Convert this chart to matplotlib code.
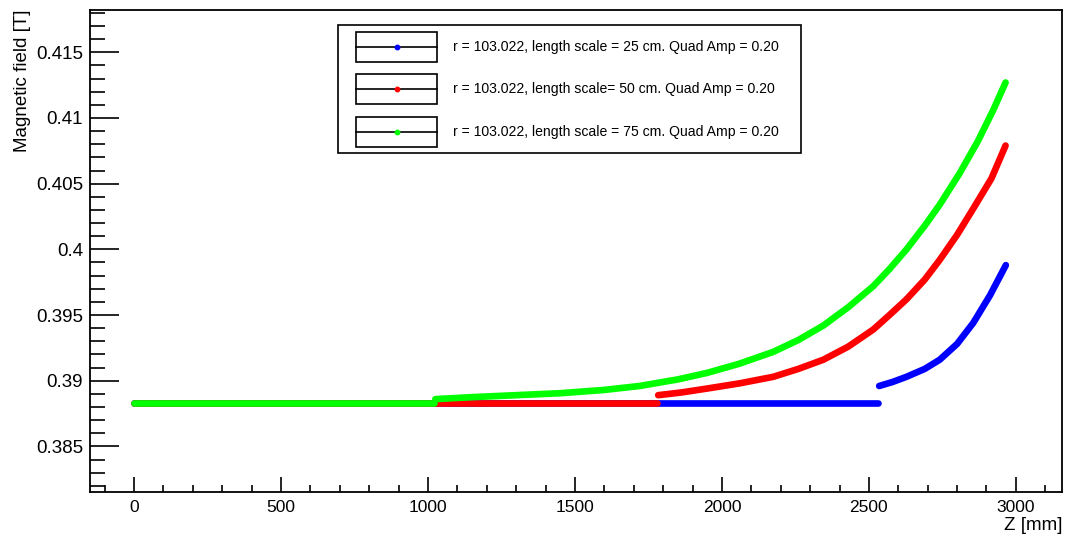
import matplotlib
matplotlib.use("Agg")
import matplotlib.pyplot as plt
from matplotlib.patches import Rectangle
from matplotlib.lines import Line2D
from matplotlib.ticker import MultipleLocator, FuncFormatter

plt.rcParams['font.family'] = ['Liberation Sans', 'DejaVu Sans']

# --- data (Z in mm, B in T) ---------------------------------------------
flat_b = 0.3883

blue_flat_z = [0, 2530]
blue_z = [2535, 2580, 2628, 2690, 2741, 2800, 2855, 2912, 2966]
blue_b = [0.3896, 0.3899, 0.3903, 0.3909, 0.3916, 0.3928, 0.3944, 0.3965, 0.3988]

red_flat_z = [0, 1780]
red_z = [1783, 1860, 1948, 2060, 2175, 2260, 2345, 2430, 2515, 2570,
         2628, 2690, 2741, 2800, 2855, 2917, 2965]
red_b = [0.3889, 0.3891, 0.3894, 0.3898, 0.3903, 0.3909, 0.3916, 0.3926,
         0.3939, 0.3950, 0.3962, 0.3977, 0.3992, 0.4011, 0.4031, 0.4054, 0.4079]

green_flat_z = [0, 1022]
green_z = [1025, 1150, 1300, 1450, 1600, 1720, 1850, 1950, 2060, 2175, 2260,
           2345, 2430, 2515, 2570, 2628, 2690, 2741, 2809, 2870, 2923, 2965]
green_b = [0.3886, 0.38875, 0.3889, 0.38905, 0.3893, 0.3896, 0.3901, 0.3906,
           0.3913, 0.3922, 0.3931, 0.3942, 0.3956, 0.3972, 0.3985, 0.4000,
           0.4018, 0.4034, 0.4058, 0.4082, 0.4106, 0.4127]

labels = ["r = 103.022, length scale = 25 cm. Quad Amp = 0.20",
          "r = 103.022, length scale= 50 cm. Quad Amp = 0.20",
          "r = 103.022, length scale = 75 cm. Quad Amp = 0.20"]

BLUE = (0.0, 0.0, 1.0)
RED = (1.0, 0.0, 0.0)
GREEN = (0.0, 1.0, 0.0)

W, H = 1065, 537


def fx(px):
    return px / W


def fy(py):
    return 1 - py / H


def draw_series(ax, flat_z, z, b, color):
    kw = dict(color=color, lw=4.8, solid_capstyle='round', solid_joinstyle='round')
    ax.plot(flat_z, [flat_b] * len(flat_z), **kw)
    ax.plot(z, b, **kw)


def draw_legend(fig, colors, texts):
    # ROOT-style TLegend box, placed in figure pixels
    fig.patches.append(Rectangle((fx(338), fy(153)), fx(801) - fx(338),
                                 fy(25) - fy(153), transform=fig.transFigure,
                                 fill=False, ec='black', lw=1.2))
    tops = [31.7, 74.0, 116.7]
    for top, c, t in zip(tops, colors, texts):
        fig.patches.append(Rectangle((fx(356), fy(top + 30)), fx(437) - fx(356),
                                     fy(top) - fy(top + 30),
                                     transform=fig.transFigure,
                                     fill=False, ec='black', lw=1.2))
        yc = fy(top + 15)
        fig.lines.append(Line2D([fx(356), fx(437)], [yc, yc],
                                transform=fig.transFigure, color='black', lw=1.2))
        fig.lines.append(Line2D([fx(396.7)], [yc], transform=fig.transFigure,
                                marker='o', ms=3.2, color=c, mec=c, ls='none'))
        fig.text(fx(453), yc, t, fontsize=10.1, va='center', ha='left')


fig = plt.figure(figsize=(W / 100, H / 100), dpi=100)
ax = fig.add_axes([fx(90), fy(492), fx(1062) - fx(90), fy(10) - fy(492)])

draw_series(ax, blue_flat_z, blue_z, blue_b, BLUE)
draw_series(ax, red_flat_z, red_z, red_b, RED)
draw_series(ax, green_flat_z, green_z, green_b, GREEN)

ax.set_xlim(-150, 3157)
ax.set_ylim(0.38153, 0.41822)

ax.xaxis.set_major_locator(MultipleLocator(500))
ax.xaxis.set_minor_locator(MultipleLocator(100))
ax.yaxis.set_major_locator(MultipleLocator(0.005))
ax.yaxis.set_minor_locator(MultipleLocator(0.001))
ax.yaxis.set_major_formatter(FuncFormatter(lambda v, p: "%g" % round(v, 4)))

ax.tick_params(axis='both', which='both', direction='in', width=1.2,
               top=False, right=False)
ax.tick_params(axis='y', which='major', length=21, pad=5, labelsize=13.5)
ax.tick_params(axis='y', which='minor', length=10.8)
ax.tick_params(axis='x', which='major', length=10.8, pad=6, labelsize=12.5)
ax.tick_params(axis='x', which='minor', length=5.4)
for s in ax.spines.values():
    s.set_linewidth(1.3)

ax.set_ylabel("Magnetic field [T]", fontsize=13.5, loc='top')
ax.yaxis.set_label_coords(-0.061, 1.0)
ax.set_xlabel("Z [mm]", fontsize=13.5, loc='right')
ax.xaxis.set_label_coords(1.0, -0.052)

draw_legend(fig, [BLUE, RED, GREEN], labels)

fig.savefig("out.png", dpi=100)
